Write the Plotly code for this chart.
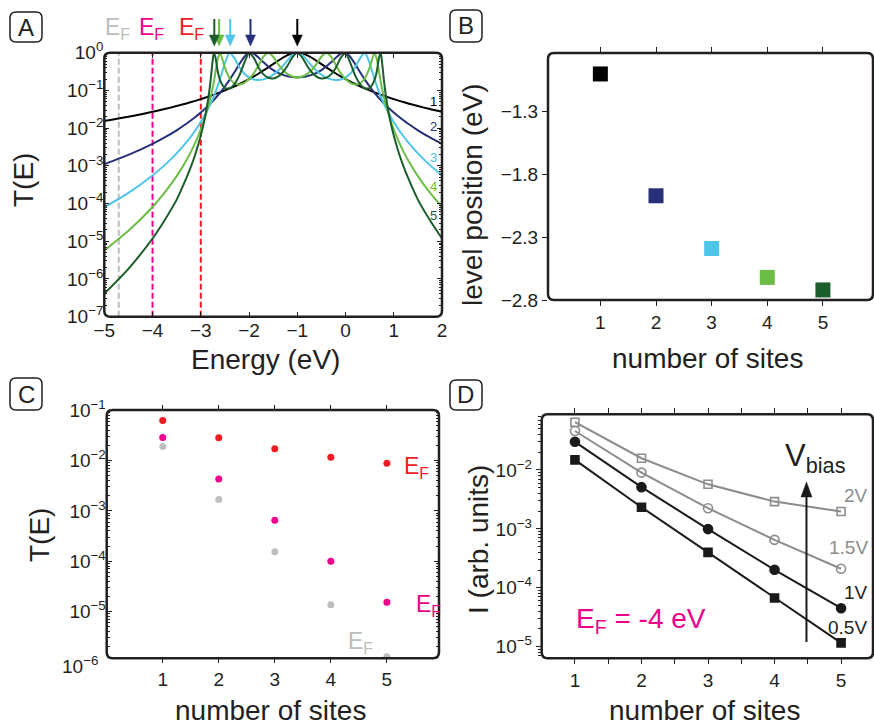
import plotly.graph_objects as go

# ---------------- DATA ----------------
# Panel A: transmission T(E) for chains of 1..5 sites (log10 values)
energy_A = [-5.0, -4.5, -4.0, -3.75, -3.5, -3.3, -3.2, -3.1, -3.0, -2.95, -2.9, -2.85, -2.8, -2.75, -2.73,
            -2.7, -2.65, -2.6, -2.5, -2.4, -2.3, -2.2, -2.1, -2.0, -1.9, -1.8, -1.7, -1.6, -1.5, -1.4, -1.3,
            -1.2, -1.1, -1.0, -0.9, -0.8, -0.7, -0.6, -0.5, -0.4, -0.3, -0.2, -0.1, 0.0, 0.1, 0.2, 0.3, 0.4,
            0.5, 0.6, 0.65, 0.7, 0.73, 0.75, 0.8, 0.85, 0.9, 0.95, 1.0, 1.1, 1.2, 1.3, 1.5, 1.75, 2.0]

logT_1 = [-1.813, -1.699, -1.568, -1.495, -1.415, -1.346, -1.309, -1.270, -1.230, -1.210, -1.189, -1.167, -1.145,
          -1.122, -1.113, -1.099, -1.075, -1.051, -1.000, -0.946, -0.890, -0.830, -0.766, -0.699, -0.627, -0.551,
          -0.471, -0.387, -0.301, -0.215, -0.134, -0.064, -0.017, 0.000,
          -0.017, -0.064, -0.134, -0.215, -0.301, -0.387, -0.471, -0.551, -0.627, -0.699, -0.766, -0.830, -0.890,
          -0.946, -1.000, -1.051, -1.075, -1.099, -1.113, -1.122, -1.145, -1.167, -1.189, -1.210, -1.230, -1.270,
          -1.309, -1.346, -1.415, -1.495, -1.568]
logT_2 = [-2.958, -2.710, -2.417, -2.247, -2.057, -1.885, -1.792, -1.692, -1.586, -1.529, -1.471, -1.410, -1.346,
          -1.280, -1.253, -1.211, -1.138, -1.062, -0.897, -0.715, -0.514, -0.303, -0.113, -0.007, -0.027, -0.132,
          -0.256, -0.368, -0.461, -0.534, -0.588, -0.626, -0.647, -0.655,
          -0.647, -0.626, -0.588, -0.534, -0.461, -0.368, -0.256, -0.132, -0.027, -0.007, -0.113, -0.303, -0.514,
          -0.715, -0.897, -1.062, -1.138, -1.211, -1.253, -1.280, -1.346, -1.410, -1.471, -1.529, -1.586, -1.692,
          -1.792, -1.885, -2.057, -2.247, -2.417]
logT_3 = [-4.103, -3.717, -3.254, -2.981, -2.668, -2.378, -2.215, -2.037, -1.839, -1.732, -1.617, -1.494, -1.361,
          -1.218, -1.156, -1.060, -0.887, -0.696, -0.274, -0.002, -0.150, -0.385, -0.552, -0.655, -0.709, -0.725,
          -0.708, -0.661, -0.585, -0.480, -0.348, -0.198, -0.060, 0.000,
          -0.060, -0.198, -0.348, -0.480, -0.585, -0.661, -0.708, -0.725, -0.709, -0.655, -0.552, -0.385, -0.150,
          -0.002, -0.274, -0.696, -0.887, -1.060, -1.156, -1.218, -1.361, -1.494, -1.617, -1.732, -1.839, -2.037,
          -2.215, -2.378, -2.668, -2.981, -3.254]
logT_4 = [-5.246, -4.724, -4.091, -3.713, -3.273, -2.856, -2.616, -2.346, -2.036, -1.860, -1.666, -1.447, -1.196,
          -0.902, -0.769, -0.552, -0.175, -0.001, -0.395, -0.684, -0.812, -0.842, -0.800, -0.699, -0.540, -0.330,
          -0.105, 0.000, -0.108, -0.295, -0.456, -0.568, -0.633, -0.655,
          -0.633, -0.568, -0.456, -0.295, -0.108, 0.000, -0.105, -0.330, -0.540, -0.699, -0.800, -0.842, -0.812,
          -0.684, -0.395, -0.001, -0.175, -0.552, -0.769, -0.902, -1.196, -1.447, -1.666, -1.860, -2.036, -2.346,
          -2.616, -2.856, -3.273, -3.713, -4.091]
logT_5 = [-6.389, -5.730, -4.927, -4.443, -3.895, -3.328, -3.007, -2.638, -2.197, -1.934, -1.627, -1.254, -0.771,
          -0.167, -0.012, -0.103, -0.483, -0.728, -0.937, -0.947, -0.830, -0.602, -0.273, -0.007, -0.139, -0.397,
          -0.575, -0.665, -0.683, -0.633, -0.519, -0.339, -0.121, 0.000,
          -0.121, -0.339, -0.519, -0.633, -0.683, -0.665, -0.575, -0.397, -0.139, -0.007, -0.273, -0.602, -0.830,
          -0.947, -0.937, -0.728, -0.483, -0.103, -0.012, -0.167, -0.771, -1.254, -1.627, -1.934, -2.197, -2.638,
          -3.007, -3.328, -3.895, -4.443, -4.927]

fermi_levels_A = [-4.7, -4.0, -3.0]          # grey, magenta, red dashed lines
curve_labels = ["1", "2", "3", "4", "5"]

# Panel B: lowest level position vs number of sites
sites = [1, 2, 3, 4, 5]
level_position = [-1.0, -1.97, -2.39, -2.62, -2.72]

# Panel C: T(E_F) vs number of sites for three Fermi energies
T_red = [0.0627, 0.0283, 0.0171, 0.0117, 0.0088]
T_magenta = [0.0287, 0.0043, 6.5e-4, 1.0e-4, 1.53e-5]
T_grey = [0.019, 1.69e-3, 1.54e-4, 1.37e-5, 1.26e-6]

# Panel D: current vs number of sites for four bias voltages
bias_labels = ["0.5V", "1V", "1.5V", "2V"]
I_05 = [0.0148, 0.00233, 3.98e-4, 6.7e-5, 1.16e-5]
I_10 = [0.030, 0.0051, 9.9e-4, 2.02e-4, 4.5e-5]
I_15 = [0.0458, 0.0090, 2.24e-3, 6.5e-4, 2.1e-4]
I_20 = [0.0646, 0.0158, 5.7e-3, 2.9e-3, 1.97e-3]

# ---------------- STYLE ----------------
W, H = 874, 727
FONT = "Liberation Sans, Arial, Helvetica, sans-serif"
INK = "#231f20"
COLS = ["#000000", "#253079", "#4dc5e9", "#6cbd45", "#1b5e2c"]
RED, MAG, GREY = "#ed1c24", "#ec008c", "#bcbec0"


def px(x):
    return x / W


def py(y):
    return 1 - y / H


def logT(vals):
    return [10 ** v for v in vals]


def minor_log(d0, d1):
    return [k * 10 ** d for d in range(d0, d1) for k in range(2, 10)]


def sup_labels(exps):
    return ["10<sup>%s</sup>" % (("\u2212%d" % -e) if e < 0 else "%d" % e) for e in exps]


fig = go.Figure()

# Panel A curves
for i, lt in enumerate([logT_1, logT_2, logT_3, logT_4, logT_5]):
    fig.add_trace(go.Scatter(x=energy_A, y=logT(lt), mode="lines",
                             line=dict(color=COLS[i], width=2, shape="spline", smoothing=0.6),
                             xaxis="x", yaxis="y", showlegend=False))

# Panel B
fig.add_trace(go.Scatter(x=sites, y=level_position, mode="markers",
                         marker=dict(symbol="square", size=15, color=COLS, line=dict(width=0)),
                         xaxis="x2", yaxis="y2", showlegend=False))

# Panel C
for vals, col in [(T_red, RED), (T_magenta, MAG), (T_grey, GREY)]:
    fig.add_trace(go.Scatter(x=sites, y=vals, mode="markers",
                             marker=dict(symbol="circle", size=7, color=col),
                             xaxis="x3", yaxis="y3", showlegend=False))

# Panel D
D_specs = [(I_05, "#1a1a1a", "square", "#1a1a1a"),
           (I_10, "#1a1a1a", "circle", "#1a1a1a"),
           (I_15, "#8c8c8c", "circle-open", "#8c8c8c"),
           (I_20, "#8c8c8c", "square-open", "#8c8c8c")]
for vals, lc, sym, mc in D_specs:
    fig.add_trace(go.Scatter(x=sites, y=vals, mode="lines+markers",
                             line=dict(color=lc, width=2),
                             marker=dict(symbol=sym, size=9 if "circle" in sym else 8, color=mc,
                                         line=dict(color=mc, width=1.6)),
                             xaxis="x4", yaxis="y4", showlegend=False))

tickfont = dict(family=FONT, size=19, color=INK)
common = dict(showgrid=False, zeroline=False, showline=False, tickfont=tickfont,
              tickcolor=INK, tickwidth=1.2, automargin=False)

# frames (pixel boxes)
boxA = (104.3, 52.7, 442.0, 316.7)
boxB = (548.0, 53.0, 873.0, 300.0)
boxC = (106.7, 410.0, 439.0, 658.3)
boxD = (541.7, 414.3, 873.0, 658.3)

layout = dict(
    width=W, height=H, margin=dict(l=0, r=0, t=0, b=0, pad=0, autoexpand=False),
    paper_bgcolor="white", plot_bgcolor="white", showlegend=False,
    font=dict(family=FONT, color=INK),
    xaxis=dict(domain=[px(boxA[0]), px(boxA[2])], anchor="y", range=[-5, 2],
               tickvals=[-5, -4, -3, -2, -1, 0, 1, 2], ticks="inside", ticklen=5, mirror="ticks", **common),
    yaxis=dict(domain=[py(boxA[3]), py(boxA[1])], anchor="x", type="log", range=[-7, 0],
               tickvals=[10 ** e for e in range(-7, 1)], ticktext=sup_labels(range(-7, 1)),
               ticks="inside", ticklen=5, mirror="ticks",
               minor=dict(tickvals=minor_log(-7, 0), ticks="inside", ticklen=3, tickcolor=INK),
               **common),
    xaxis2=dict(domain=[px(boxB[0]), px(boxB[2])], anchor="y2", range=[0.059, 5.9],
                tickvals=[1, 2, 3, 4, 5], ticks="outside", ticklen=5, mirror="ticks", **common),
    yaxis2=dict(domain=[py(boxB[3]), py(boxB[1])], anchor="x2", range=[-2.8, -0.833],
                tickvals=[-1.3, -1.8, -2.3, -2.8], ticks="outside", ticklen=5, **common),
    xaxis3=dict(domain=[px(boxC[0]), px(boxC[2])], anchor="y3", range=[0.0, 5.93],
                tickvals=[1, 2, 3, 4, 5], ticks="outside", ticklen=4, mirror="ticks", **common),
    yaxis3=dict(domain=[py(boxC[3]), py(boxC[1])], anchor="x3", type="log", range=[-5.93, -0.995],
                tickvals=[10 ** e for e in range(-5, 0)], ticktext=sup_labels(range(-5, 0)),
                ticks="inside", ticklen=5, mirror="ticks",
                minor=dict(tickvals=minor_log(-6, -1), ticks="inside", ticklen=3, tickcolor=INK),
                **common),
    xaxis4=dict(domain=[px(boxD[0]), px(boxD[2])], anchor="y4", range=[0.5, 5.48],
                tickvals=[1, 2, 3, 4, 5], ticks="outside", ticklen=5, mirror="ticks",
                minor=dict(tickvals=[1.5, 2.5, 3.5, 4.5], ticks="outside", ticklen=5, tickcolor=INK),
                **common),
    yaxis4=dict(domain=[py(boxD[3]), py(boxD[1])], anchor="x4", type="log", range=[-5.197, -1.056],
                tickvals=[10 ** e for e in range(-5, -1)], ticktext=sup_labels(range(-5, -1)),
                ticks="outside", ticklen=5, mirror="ticks",
                minor=dict(tickvals=minor_log(-6, -1), ticks="outside", ticklen=3, tickcolor=INK),
                **common),
)
fig.update_layout(**layout)


def rrect_path(x0, y0, x1, y1, r):
    pts = [("M", x0 + r, y0), ("L", x1 - r, y0), ("Q", x1, y0, x1, y0 + r), ("L", x1, y1 - r),
           ("Q", x1, y1, x1 - r, y1), ("L", x0 + r, y1), ("Q", x0, y1, x0, y1 - r), ("L", x0, y0 + r),
           ("Q", x0, y0, x0 + r, y0)]
    s = ""
    for p in pts:
        if p[0] == "Q":
            s += "Q%.5f,%.5f %.5f,%.5f " % (px(p[1]), py(p[2]), px(p[3]), py(p[4]))
        else:
            s += "%s%.5f,%.5f " % (p[0], px(p[1]), py(p[2]))
    return s + "Z"


def tri_path(xc, ytip, w, h):
    return "M%.5f,%.5f L%.5f,%.5f L%.5f,%.5f Z" % (px(xc), py(ytip), px(xc - w / 2), py(ytip - h),
                                                  px(xc + w / 2), py(ytip - h))


shapes = []
for b in [boxA, boxB, boxC, boxD]:
    shapes.append(dict(type="path", xref="paper", yref="paper", path=rrect_path(*b, 6),
                       line=dict(color=INK, width=2.5), layer="above"))
# panel letter boxes
for b in [(10, 12, 42, 42), (450, 10, 482, 42), (10, 378, 42, 410), (450, 380, 482, 410)]:
    shapes.append(dict(type="path", xref="paper", yref="paper", path=rrect_path(*b, 6),
                       line=dict(color=INK, width=1.5)))
# Fermi-level dashed lines in A
for ef, col in zip(fermi_levels_A, [GREY, MAG, RED]):
    shapes.append(dict(type="line", xref="x", yref="y domain", x0=ef, x1=ef, y0=0, y1=1,
                       line=dict(color=col, width=2, dash="6px,3px"), layer="below"))

# level arrows above panel A (x from the level positions of panel B)
x_of_E = lambda e: boxA[0] + (e - (-5)) / 7.0 * (boxA[2] - boxA[0])
for lvl, col in zip(level_position, COLS):
    xc = x_of_E(lvl)
    shapes.append(dict(type="line", xref="paper", yref="paper", x0=px(xc), x1=px(xc),
                       y0=py(19), y1=py(38), line=dict(color=col, width=2)))
    shapes.append(dict(type="path", xref="paper", yref="paper", path=tri_path(xc, 46, 10, 11),
                       fillcolor=col, line=dict(color=col, width=0.5)))

# Vbias arrow in D
x_of_N = lambda n: boxD[0] + (n - 0.5) / (5.48 - 0.5) * (boxD[2] - boxD[0])
xa = x_of_N(4.48)
shapes.append(dict(type="line", xref="paper", yref="paper", x0=px(xa), x1=px(xa),
                   y0=py(642), y1=py(494), line=dict(color="#1a1a1a", width=2)))
shapes.append(dict(type="path", xref="paper", yref="paper",
                   path="M%.5f,%.5f L%.5f,%.5f L%.5f,%.5f Z" % (px(xa), py(482), px(xa - 5.5), py(497),
                                                               px(xa + 5.5), py(497)),
                   fillcolor="#1a1a1a", line=dict(color="#1a1a1a", width=0.5)))
fig.update_layout(shapes=shapes)

ann = []


def text(x, y, s, size, color=INK, angle=0, xanchor="center"):
    ann.append(dict(x=px(x), y=py(y), xref="paper", yref="paper", text=s, showarrow=False,
                    font=dict(family=FONT, size=size, color=color), textangle=angle,
                    xanchor=xanchor, yanchor="middle"))


# panel letters
for (x, y, s) in [(26, 27, "A"), (466, 26, "B"), (26, 394, "C"), (466, 395, "D")]:
    text(x, y, s, 24)

# axis titles
text(265, 360, "Energy (eV)", 28)
text(24, 180, "T(E)", 28, angle=-90)
text(707, 358, "number of sites", 28)
text(472, 195, "level position (eV)", 28, angle=-90)
text(270, 710, "number of sites", 28)
text(39, 535, "T(E)", 28, angle=-90)
text(704, 710, "number of sites", 28)
text(478, 540, "I (arb. units)", 28, angle=-90)

# top E_F labels in A
for x, col in [(117, GREY), (151, MAG), (191, RED)]:
    text(x, 29, "E<sub>F</sub>", 23, color=col)

# curve labels at right of A
for lab, col, y in zip(curve_labels, COLS, [101, 127, 157, 186, 215]):
    text(433, y, lab, 13, color=col)

# 10^-6 label below C axis
text(80, 665, "10<sup>\u22126</sup>", 19, xanchor="center")

# E_F labels in C
text(416, 467, "E<sub>F</sub>", 23, color=RED)
text(428, 605, "E<sub>F</sub>", 23, color=MAG)
text(360, 642, "E<sub>F</sub>", 23, color=GREY)

# Panel D annotations
text(641, 620, "E<sub>F</sub> = -4 eV", 28, color=MAG)
text(815, 458, "V<sub>bias</sub>", 31)
text(856, 495, bias_labels[3], 19, color="#8c8c8c")
text(848, 547, bias_labels[2], 19, color="#8c8c8c")
text(856, 592, bias_labels[1], 19)
text(847, 627, bias_labels[0], 19)

fig.update_layout(annotations=ann)
fig.write_html("out.html")
